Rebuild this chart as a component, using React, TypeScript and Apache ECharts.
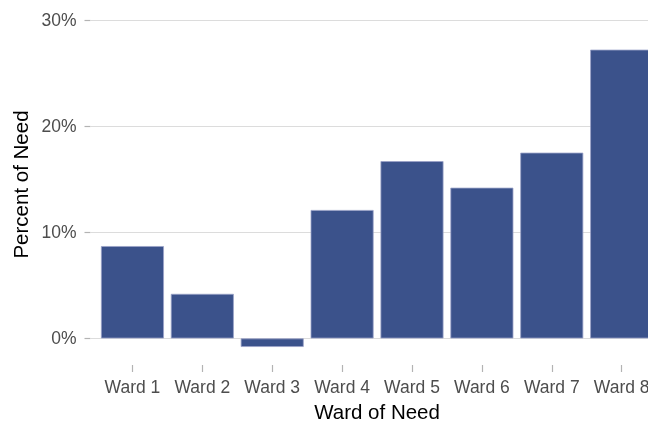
import React, { useEffect, useRef } from "react";
import * as echarts from "echarts";

const categories = ["Ward 1", "Ward 2", "Ward 3", "Ward 4", "Ward 5", "Ward 6", "Ward 7", "Ward 8"];
const percentOfNeed = [8.7, 4.2, -0.8, 12.1, 16.7, 14.2, 17.5, 27.2];
const yTicks = [0, 10, 20, 30];
const xPositions = categories.map((_, i) => i + 1);

const FONT = "'Liberation Sans', Arial, Helvetica, sans-serif";

export default function App() {
  const ref = useRef<HTMLDivElement>(null);
  useEffect(() => {
    document.body.style.margin = "0";
    const chart = echarts.init(ref.current!, null, { renderer: "svg" });
    chart.setOption({
      animation: false,
      textStyle: { fontFamily: FONT },
      grid: { left: 90.5, right: -15.6, top: 4, bottom: 59, containLabel: false, outerBoundsMode: "none" },
      xAxis: {
        type: "value",
        min: 0.4,
        max: 8.6,
        name: "Ward of Need",
        nameLocation: "middle",
        nameGap: 36,
        nameTextStyle: { fontSize: 20.5, color: "#000000", fontFamily: FONT },
        axisLine: { show: false, onZero: false },
        splitLine: { show: false },
        axisTick: {
          show: true,
          customValues: xPositions,
          length: 7,
          lineStyle: { color: "#b3b3b3", width: 1.2 },
        },
        axisLabel: {
          customValues: xPositions,
          margin: 13,
          fontSize: 17.5,
          color: "#4d4d4d",
          fontFamily: FONT,
          formatter: (v: number) => categories[Math.round(v) - 1] ?? "",
        },
      },
      yAxis: {
        type: "value",
        min: -2.5,
        max: 31.5,
        name: "Percent of Need",
        nameLocation: "middle",
        nameGap: 57,
        nameTextStyle: { fontSize: 20.5, color: "#000000", fontFamily: FONT },
        axisLine: { show: false, onZero: false },
        splitLine: { show: false },
        axisTick: {
          show: true,
          customValues: yTicks,
          length: 6,
          lineStyle: { color: "#b3b3b3", width: 1.2 },
        },
        axisLabel: {
          customValues: yTicks,
          margin: 14,
          fontSize: 17.5,
          color: "#4d4d4d",
          fontFamily: FONT,
          formatter: (v: number) => `${v}%`,
        },
      },
      series: [
        {
          type: "line",
          data: [],
          z: 1,
          silent: true,
          markLine: {
            z: 1,
            silent: true,
            symbol: ["none", "none"],
            label: { show: false },
            lineStyle: { color: "#dcdcdc", width: 1, type: "solid" },
            emphasis: { disabled: true },
            data: yTicks.map((t) => ({ yAxis: t })),
          },
        },
        {
          type: "bar",
          z: 3,
          barWidth: 63,
          data: categories.map((_, i) => [xPositions[i], percentOfNeed[i]]),
          itemStyle: { color: "#3B528B", borderColor: "#9aa2c8", borderWidth: 0.8 },
          emphasis: { disabled: true },
        },
      ],
    });
    return () => chart.dispose();
  }, []);
  return <div ref={ref} style={{ width: 648, height: 424, position: "fixed", left: 0, top: 0 }} />;
}
